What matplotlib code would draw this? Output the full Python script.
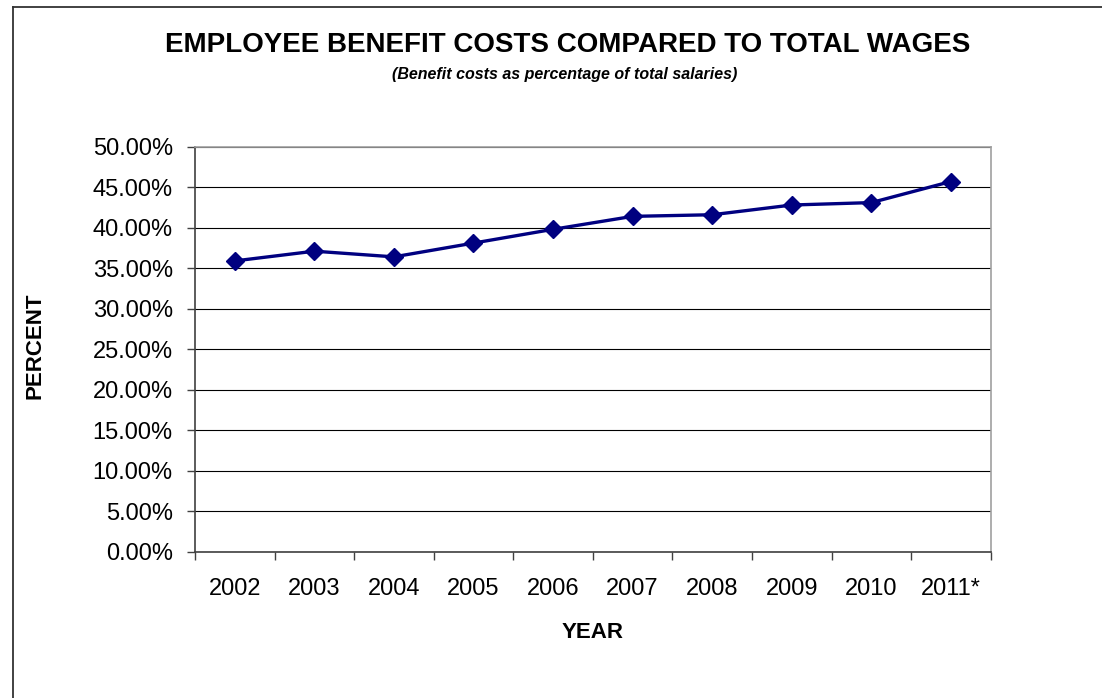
import matplotlib.pyplot as plt
from matplotlib.lines import Line2D
from matplotlib.ticker import FixedLocator, PercentFormatter

plt.rcParams['font.family'] = ['Liberation Sans', 'DejaVu Sans']

### Data
years = ['2002', '2003', '2004', '2005', '2006', '2007', '2008', '2009', '2010', '2011*']
benefit_pct = [0.359, 0.371, 0.364, 0.381, 0.398, 0.414, 0.416, 0.428, 0.431, 0.457]
y_ticks = [0.0, 0.05, 0.10, 0.15, 0.20, 0.25, 0.30, 0.35, 0.40, 0.45, 0.50]

fig = plt.figure(figsize=(11.02, 6.98), dpi=100)
fig.patch.set_facecolor('white')

# outer chart frame (cut off at right / bottom like the source)
fig.add_artist(Line2D([13/1102, 13/1102], [-0.1, 1 - 6.5/698], transform=fig.transFigure,
                      color='#333333', lw=1.3))
fig.add_artist(Line2D([13/1102, 1.1], [1 - 6.5/698, 1 - 6.5/698], transform=fig.transFigure,
                      color='#333333', lw=1.3))

ax = fig.add_axes([195/1102, 1 - 551.7/698, 795.7/1102, 405/698])

x = list(range(len(years)))
ax.plot(x, benefit_pct, color='#000080', lw=2.4, marker='D', markersize=9.5,
        markerfacecolor='#000080', markeredgecolor='#000080', zorder=3)

ax.set_xlim(-0.5, len(years) - 0.5)
ax.set_ylim(0, 0.5)

ax.yaxis.set_major_locator(FixedLocator(y_ticks))
ax.yaxis.set_major_formatter(PercentFormatter(1.0, decimals=2))
ax.grid(axis='y', color='black', lw=0.8)
ax.set_axisbelow(True)

ax.set_xticks(x)
ax.set_xticklabels(years)
ax.set_xticks([i - 0.5 for i in range(len(years) + 1)], minor=True)

ax.tick_params(axis='x', which='major', length=0, pad=19, labelsize=17)
ax.tick_params(axis='x', which='minor', length=6, width=1, color='#404040', direction='out')
ax.tick_params(axis='y', length=6, width=1, color='#404040', pad=10, labelsize=17)

for side in ['left', 'bottom']:
    ax.spines[side].set_color('#404040')
    ax.spines[side].set_linewidth(1.2)
for side in ['top', 'right']:
    ax.spines[side].set_color('#a0a0a0')
    ax.spines[side].set_linewidth(1.2)

fig.text(568/1102, 1 - 45/698, 'EMPLOYEE BENEFIT COSTS COMPARED TO TOTAL WAGES',
         ha='center', va='center', fontsize=20, fontweight='bold')
fig.text(565/1102, 1 - 75/698, '(Benefit costs as percentage of total salaries)',
         ha='center', va='center', fontsize=11.5, fontweight='bold', style='italic')
fig.text(593/1102, 1 - 632/698, 'YEAR', ha='center', va='center', fontsize=16,
         fontweight='bold')
fig.text(35/1102, 1 - 346/698, 'PERCENT', ha='center', va='center', fontsize=16,
         fontweight='bold', rotation=90)

fig.savefig('out.png', dpi=100)
